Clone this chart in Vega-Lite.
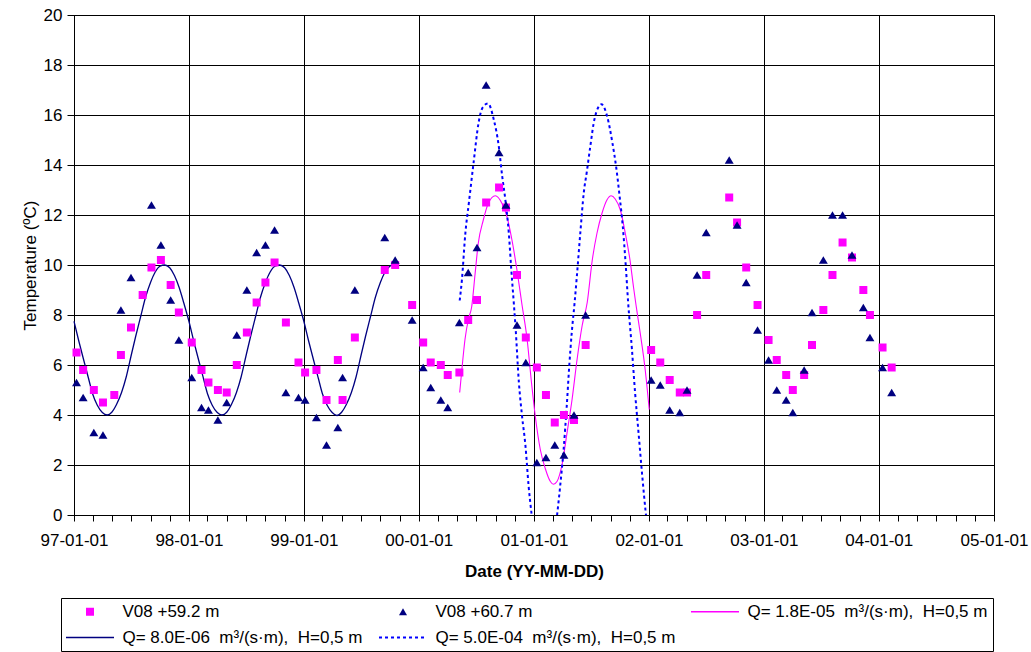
{
  "$schema": "https://vega.github.io/schema/vega-lite/v6.json",
  "width": 920,
  "height": 500,
  "autosize": "none",
  "padding": {"left": 74, "top": 15, "right": 37, "bottom": 137},
  "background": "white",
  "config": {
    "font": "Liberation Sans",
    "view": {"stroke": "black", "strokeWidth": 1},
    "axis": {
      "labelFont": "Liberation Sans",
      "titleFont": "Liberation Sans",
      "labelFontSize": 17,
      "titleFontSize": 17,
      "labelColor": "black",
      "titleColor": "black",
      "domainColor": "black",
      "tickColor": "black",
      "gridColor": "black",
      "gridWidth": 1
    }
  },
  "datasets": {
    "sq": [
      {"date": "1997-01-09", "value": 6.5}, {"date": "1997-01-30", "value": 5.8}, {"date": "1997-03-05", "value": 5.0}, {"date": "1997-04-03", "value": 4.5},
      {"date": "1997-05-09", "value": 4.8}, {"date": "1997-05-30", "value": 6.4}, {"date": "1997-07-01", "value": 7.5}, {"date": "1997-08-07", "value": 8.8},
      {"date": "1997-09-04", "value": 9.9}, {"date": "1997-10-04", "value": 10.2}, {"date": "1997-11-04", "value": 9.2}, {"date": "1997-11-30", "value": 8.1},
      {"date": "1998-01-10", "value": 6.9}, {"date": "1998-02-10", "value": 5.8}, {"date": "1998-03-04", "value": 5.3}, {"date": "1998-04-03", "value": 5.0},
      {"date": "1998-05-01", "value": 4.9}, {"date": "1998-06-02", "value": 6.0}, {"date": "1998-07-04", "value": 7.3}, {"date": "1998-08-04", "value": 8.5},
      {"date": "1998-09-01", "value": 9.3}, {"date": "1998-09-30", "value": 10.1}, {"date": "1998-11-05", "value": 7.7}, {"date": "1998-12-15", "value": 6.1},
      {"date": "1999-01-05", "value": 5.7}, {"date": "1999-02-10", "value": 5.8}, {"date": "1999-03-14", "value": 4.6}, {"date": "1999-04-19", "value": 6.2},
      {"date": "1999-05-04", "value": 4.6}, {"date": "1999-06-12", "value": 7.1}, {"date": "1999-09-15", "value": 9.8}, {"date": "1999-10-18", "value": 10.0},
      {"date": "1999-12-11", "value": 8.4}, {"date": "2000-01-15", "value": 6.9}, {"date": "2000-02-08", "value": 6.1}, {"date": "2000-03-11", "value": 6.0},
      {"date": "2000-04-02", "value": 5.6}, {"date": "2000-05-09", "value": 5.7}, {"date": "2000-06-06", "value": 7.8}, {"date": "2000-07-04", "value": 8.6},
      {"date": "2000-08-02", "value": 12.5}, {"date": "2000-09-12", "value": 13.1}, {"date": "2000-10-04", "value": 12.3}, {"date": "2000-11-08", "value": 9.6},
      {"date": "2000-12-06", "value": 7.1}, {"date": "2001-01-10", "value": 5.9}, {"date": "2001-02-08", "value": 4.8}, {"date": "2001-03-08", "value": 3.7},
      {"date": "2001-04-06", "value": 4.0}, {"date": "2001-05-08", "value": 3.8}, {"date": "2001-06-14", "value": 6.8},
      {"date": "2002-01-08", "value": 6.6}, {"date": "2002-02-06", "value": 6.1}, {"date": "2002-03-08", "value": 5.4}, {"date": "2002-04-09", "value": 4.9},
      {"date": "2002-05-02", "value": 4.9}, {"date": "2002-06-03", "value": 8.0}, {"date": "2002-07-02", "value": 9.6}, {"date": "2002-09-13", "value": 12.7},
      {"date": "2002-10-08", "value": 11.7}, {"date": "2002-11-06", "value": 9.9}, {"date": "2002-12-12", "value": 8.4}, {"date": "2003-01-16", "value": 7.0},
      {"date": "2003-02-11", "value": 6.2}, {"date": "2003-03-13", "value": 5.6}, {"date": "2003-04-03", "value": 5.0}, {"date": "2003-05-09", "value": 5.6},
      {"date": "2003-06-03", "value": 6.8}, {"date": "2003-07-09", "value": 8.2}, {"date": "2003-08-07", "value": 9.6}, {"date": "2003-09-08", "value": 10.9},
      {"date": "2003-10-08", "value": 10.3}, {"date": "2003-11-13", "value": 9.0}, {"date": "2003-12-04", "value": 8.0}, {"date": "2004-01-13", "value": 6.7},
      {"date": "2004-02-11", "value": 5.9}
    ],
    "tri": [
      {"date": "1997-01-09", "value": 5.3}, {"date": "1997-01-30", "value": 4.7}, {"date": "1997-03-05", "value": 3.3}, {"date": "1997-04-03", "value": 3.2},
      {"date": "1997-05-30", "value": 8.2}, {"date": "1997-07-01", "value": 9.5}, {"date": "1997-09-04", "value": 12.4}, {"date": "1997-10-04", "value": 10.8},
      {"date": "1997-11-04", "value": 8.6}, {"date": "1997-11-30", "value": 7.0}, {"date": "1998-01-10", "value": 5.5}, {"date": "1998-02-10", "value": 4.3},
      {"date": "1998-03-04", "value": 4.2}, {"date": "1998-04-03", "value": 3.8}, {"date": "1998-05-01", "value": 4.5}, {"date": "1998-06-02", "value": 7.2},
      {"date": "1998-07-04", "value": 9.0}, {"date": "1998-08-04", "value": 10.5}, {"date": "1998-09-01", "value": 10.8}, {"date": "1998-09-30", "value": 11.4},
      {"date": "1998-11-05", "value": 4.9}, {"date": "1998-12-15", "value": 4.7}, {"date": "1999-01-05", "value": 4.6}, {"date": "1999-02-10", "value": 3.9},
      {"date": "1999-03-14", "value": 2.8}, {"date": "1999-04-19", "value": 3.5}, {"date": "1999-05-04", "value": 5.5}, {"date": "1999-06-12", "value": 9.0},
      {"date": "1999-09-15", "value": 11.1}, {"date": "1999-10-18", "value": 10.2}, {"date": "1999-12-11", "value": 7.8}, {"date": "2000-01-15", "value": 5.9},
      {"date": "2000-02-08", "value": 5.1}, {"date": "2000-03-11", "value": 4.6}, {"date": "2000-04-02", "value": 4.3}, {"date": "2000-05-09", "value": 7.7},
      {"date": "2000-06-06", "value": 9.7}, {"date": "2000-07-04", "value": 10.7}, {"date": "2000-08-02", "value": 17.2}, {"date": "2000-09-12", "value": 14.5},
      {"date": "2000-10-04", "value": 12.4}, {"date": "2000-11-08", "value": 7.6}, {"date": "2000-12-06", "value": 6.1}, {"date": "2001-01-10", "value": 2.1},
      {"date": "2001-02-08", "value": 2.3}, {"date": "2001-03-08", "value": 2.8}, {"date": "2001-04-06", "value": 2.4}, {"date": "2001-05-08", "value": 4.0},
      {"date": "2001-06-14", "value": 8.0}, {"date": "2002-01-08", "value": 5.4}, {"date": "2002-02-06", "value": 5.2}, {"date": "2002-03-08", "value": 4.2},
      {"date": "2002-04-09", "value": 4.1}, {"date": "2002-05-02", "value": 5.0}, {"date": "2002-06-03", "value": 9.6}, {"date": "2002-07-02", "value": 11.3},
      {"date": "2002-09-13", "value": 14.2}, {"date": "2002-10-08", "value": 11.6}, {"date": "2002-11-06", "value": 9.3}, {"date": "2002-12-12", "value": 7.4},
      {"date": "2003-01-16", "value": 6.2}, {"date": "2003-02-11", "value": 5.0}, {"date": "2003-03-13", "value": 4.6}, {"date": "2003-04-03", "value": 4.1},
      {"date": "2003-05-09", "value": 5.8}, {"date": "2003-06-03", "value": 8.1}, {"date": "2003-07-09", "value": 10.2}, {"date": "2003-08-07", "value": 12.0},
      {"date": "2003-09-08", "value": 12.0}, {"date": "2003-10-08", "value": 10.4}, {"date": "2003-11-13", "value": 8.3}, {"date": "2003-12-04", "value": 7.1},
      {"date": "2004-01-13", "value": 5.9}, {"date": "2004-02-11", "value": 4.9}
    ],
    "q08": [
      {"date": "1997-01-01", "value": 7.75}, {"date": "1997-01-16", "value": 6.97}, {"date": "1997-02-01", "value": 6.19}, {"date": "1997-02-16", "value": 5.47},
      {"date": "1997-03-01", "value": 4.85}, {"date": "1997-03-16", "value": 4.39}, {"date": "1997-04-01", "value": 4.1}, {"date": "1997-04-16", "value": 4.0},
      {"date": "1997-05-01", "value": 4.11}, {"date": "1997-05-16", "value": 4.42}, {"date": "1997-06-01", "value": 4.9}, {"date": "1997-06-16", "value": 5.53},
      {"date": "1997-07-01", "value": 6.35}, {"date": "1997-07-16", "value": 7.15}, {"date": "1997-08-01", "value": 7.95}, {"date": "1997-08-16", "value": 8.7},
      {"date": "1997-09-01", "value": 9.3}, {"date": "1997-09-16", "value": 9.72}, {"date": "1997-10-01", "value": 9.95}, {"date": "1997-10-16", "value": 10.0},
      {"date": "1997-11-01", "value": 9.89}, {"date": "1997-11-16", "value": 9.58}, {"date": "1997-12-01", "value": 9.1}, {"date": "1997-12-16", "value": 8.47},
      {"date": "1998-01-01", "value": 7.75}, {"date": "1998-01-16", "value": 6.97}, {"date": "1998-02-01", "value": 6.19}, {"date": "1998-02-16", "value": 5.47},
      {"date": "1998-03-01", "value": 4.85}, {"date": "1998-03-16", "value": 4.39}, {"date": "1998-04-01", "value": 4.1}, {"date": "1998-04-16", "value": 4.0},
      {"date": "1998-05-01", "value": 4.11}, {"date": "1998-05-16", "value": 4.42}, {"date": "1998-06-01", "value": 4.9}, {"date": "1998-06-16", "value": 5.53},
      {"date": "1998-07-01", "value": 6.35}, {"date": "1998-07-16", "value": 7.15}, {"date": "1998-08-01", "value": 7.95}, {"date": "1998-08-16", "value": 8.7},
      {"date": "1998-09-01", "value": 9.3}, {"date": "1998-09-16", "value": 9.72}, {"date": "1998-10-01", "value": 9.95}, {"date": "1998-10-16", "value": 10.0},
      {"date": "1998-11-01", "value": 9.89}, {"date": "1998-11-16", "value": 9.58}, {"date": "1998-12-01", "value": 9.1}, {"date": "1998-12-16", "value": 8.47},
      {"date": "1999-01-01", "value": 7.75}, {"date": "1999-01-16", "value": 6.97}, {"date": "1999-02-01", "value": 6.19}, {"date": "1999-02-16", "value": 5.47},
      {"date": "1999-03-01", "value": 4.85}, {"date": "1999-03-16", "value": 4.39}, {"date": "1999-04-01", "value": 4.1}, {"date": "1999-04-16", "value": 3.98},
      {"date": "1999-05-01", "value": 4.11}, {"date": "1999-05-16", "value": 4.42}, {"date": "1999-06-01", "value": 4.9}, {"date": "1999-06-16", "value": 5.53},
      {"date": "1999-07-01", "value": 6.35}, {"date": "1999-07-16", "value": 7.15}, {"date": "1999-08-01", "value": 7.95}, {"date": "1999-08-16", "value": 8.7},
      {"date": "1999-09-01", "value": 9.3}, {"date": "1999-09-16", "value": 9.72}, {"date": "1999-10-01", "value": 9.95}, {"date": "1999-10-18", "value": 10.05}
    ],
    "q18": [
      {"date": "2000-05-10", "value": 4.9}, {"date": "2000-05-16", "value": 5.7}, {"date": "2000-05-27", "value": 7.04}, {"date": "2000-06-07", "value": 7.85},
      {"date": "2000-06-17", "value": 8.32}, {"date": "2000-06-28", "value": 9.66}, {"date": "2000-07-08", "value": 10.87}, {"date": "2000-07-24", "value": 11.8},
      {"date": "2000-08-09", "value": 12.47}, {"date": "2000-08-31", "value": 12.77}, {"date": "2000-09-21", "value": 12.47}, {"date": "2000-10-07", "value": 11.94},
      {"date": "2000-10-23", "value": 11.0}, {"date": "2000-11-08", "value": 9.79}, {"date": "2000-11-24", "value": 8.4}, {"date": "2000-12-10", "value": 7.04},
      {"date": "2000-12-24", "value": 5.3}, {"date": "2001-01-05", "value": 3.96}, {"date": "2001-01-21", "value": 2.62}, {"date": "2001-02-06", "value": 1.85},
      {"date": "2001-02-22", "value": 1.34}, {"date": "2001-03-04", "value": 1.23}, {"date": "2001-03-15", "value": 1.34}, {"date": "2001-04-01", "value": 2.08},
      {"date": "2001-04-16", "value": 3.29}, {"date": "2001-05-02", "value": 4.63}, {"date": "2001-05-18", "value": 6.24}, {"date": "2001-06-03", "value": 7.58},
      {"date": "2001-06-19", "value": 8.5}, {"date": "2001-07-05", "value": 10.19}, {"date": "2001-07-20", "value": 11.27}, {"date": "2001-08-05", "value": 12.07},
      {"date": "2001-08-21", "value": 12.61}, {"date": "2001-09-03", "value": 12.77}, {"date": "2001-09-16", "value": 12.64}, {"date": "2001-10-02", "value": 12.21},
      {"date": "2001-10-18", "value": 11.27}, {"date": "2001-11-02", "value": 10.19}, {"date": "2001-11-13", "value": 9.12}, {"date": "2001-11-21", "value": 8.4},
      {"date": "2001-12-04", "value": 7.31}, {"date": "2001-12-20", "value": 5.83}, {"date": "2002-01-02", "value": 4.22}
    ],
    "q50": [
      {"date": "2000-05-10", "value": 8.58}, {"date": "2000-05-17", "value": 9.4}, {"date": "2000-05-28", "value": 11.27}, {"date": "2000-06-08", "value": 12.47},
      {"date": "2000-06-23", "value": 14.08}, {"date": "2000-07-09", "value": 15.69}, {"date": "2000-07-22", "value": 16.3}, {"date": "2000-08-08", "value": 16.46},
      {"date": "2000-08-26", "value": 15.83}, {"date": "2000-09-11", "value": 14.76}, {"date": "2000-09-22", "value": 13.55}, {"date": "2000-10-02", "value": 12.61},
      {"date": "2000-10-13", "value": 11.27}, {"date": "2000-10-21", "value": 9.79}, {"date": "2000-10-29", "value": 8.45}, {"date": "2000-11-03", "value": 7.58},
      {"date": "2000-11-14", "value": 5.3}, {"date": "2000-11-24", "value": 3.96}, {"date": "2000-12-05", "value": 2.75}, {"date": "2000-12-15", "value": 1.14},
      {"date": "2000-12-24", "value": 0.07}, {"date": "2001-01-15", "value": -2.0}, {"date": "2001-02-04", "value": -2.6}, {"date": "2001-02-28", "value": -1.5},
      {"date": "2001-03-16", "value": 0.07}, {"date": "2001-03-25", "value": 1.14}, {"date": "2001-04-05", "value": 2.62}, {"date": "2001-04-15", "value": 4.36},
      {"date": "2001-04-23", "value": 5.97}, {"date": "2001-05-01", "value": 7.31}, {"date": "2001-05-10", "value": 8.5}, {"date": "2001-05-17", "value": 9.53},
      {"date": "2001-05-28", "value": 11.27}, {"date": "2001-06-08", "value": 12.88}, {"date": "2001-06-18", "value": 13.75}, {"date": "2001-06-29", "value": 14.76},
      {"date": "2001-07-12", "value": 15.83}, {"date": "2001-08-03", "value": 16.43}, {"date": "2001-08-21", "value": 15.96}, {"date": "2001-09-07", "value": 14.89},
      {"date": "2001-09-20", "value": 13.82}, {"date": "2001-09-30", "value": 12.74}, {"date": "2001-10-10", "value": 11.54}, {"date": "2001-10-19", "value": 10.06},
      {"date": "2001-10-27", "value": 8.5}, {"date": "2001-11-08", "value": 6.64}, {"date": "2001-11-18", "value": 4.9}, {"date": "2001-11-29", "value": 3.29},
      {"date": "2001-12-10", "value": 1.68}, {"date": "2001-12-21", "value": 0.2}, {"date": "2002-01-01", "value": -1.0}
    ]
  },
  "encoding": {
    "x": {
      "field": "date",
      "type": "temporal",
      "scale": {
        "type": "utc",
        "domain": [{"year": 1997, "month": 1, "date": 1, "utc": true}, {"year": 2005, "month": 1, "date": 1, "utc": true}],
        "nice": false
      },
      "axis": {
        "title": "Date (YY-MM-DD)",
        "titleFontWeight": "bold",
        "titlePadding": 15,
        "tickCount": {"interval": "month", "step": 2},
        "labelExpr": "utcmonth(datum.value) == 0 ? utcFormat(datum.value, '%y-%m-%d') : ''",
        "labelOverlap": false,
        "labelFlush": false,
        "labelBound": false,
        "labelAngle": 0,
        "tickSize": 6,
        "labelPadding": 11,
        "grid": true,
        "gridOpacity": {"condition": {"test": "utcmonth(datum.value) == 0", "value": 1}, "value": 0}
      }
    },
    "y": {
      "field": "value",
      "type": "quantitative",
      "scale": {"domain": [0, 20], "nice": false},
      "axis": {
        "title": "Temperature (ºC)",
        "titleFontWeight": "normal",
        "titlePadding": 4,
        "values": [0, 2, 4, 6, 8, 10, 12, 14, 16, 18, 20],
        "tickSize": 7,
        "labelPadding": 5,
        "grid": true
      }
    }
  },
  "layer": [
    {
      "data": {"name": "q08"},
      "mark": {"type": "line", "strokeWidth": 1.3, "interpolate": "monotone"},
      "encoding": {
        "color": {
          "datum": "Q= 8.0E-06\u00a0 m³/(s·m),\u00a0 H=0,5 m",
          "type": "nominal",
          "scale": {
            "domain": ["V08 +59.2 m", "V08 +60.7 m", "Q= 1.8E-05\u00a0 m³/(s·m),\u00a0 H=0,5 m", "Q= 8.0E-06\u00a0 m³/(s·m),\u00a0 H=0,5 m", "Q= 5.0E-04\u00a0 m³/(s·m),\u00a0 H=0,5 m"],
            "range": ["#ff00ff", "#000080", "#ff00ff", "#000080", "#0000ff"]
          },
          "legend": {
            "title": null,
            "orient": "none",
            "legendX": -13,
            "legendY": 583,
            "columns": 3,
            "direction": "horizontal",
            "strokeColor": "black",
            "padding": 5,
            "labelFont": "Liberation Sans",
            "labelFontSize": 17,
            "labelColor": "black",
            "labelLimit": 400,
            "symbolSize": 64,
            "symbolOffset": 15.5,
            "labelOffset": 24,
            "columnPadding": 12,
            "rowPadding": 8,
            "encode": {
              "symbols": {
                "update": {
                  "shape": {"signal": "datum.index == 0 ? 'square' : datum.index == 1 ? 'triangle-up' : 'M-6,0H6'"},
                  "fill": {"signal": "datum.index == 0 ? '#ff00ff' : datum.index == 1 ? '#000080' : 'transparent'"},
                  "stroke": {"signal": "datum.index == 2 ? '#ff00ff' : datum.index == 3 ? '#000080' : datum.index == 4 ? '#0000ff' : 'transparent'"},
                  "strokeWidth": {"signal": "datum.index == 4 ? 2 : datum.index >= 2 ? 1.3 : 0"},
                  "strokeDash": {"signal": "datum.index == 4 ? [3, 3] : [1, 0]"},
                  "size": {"value": 64},
                  "opacity": {"value": 1}
                }
              }
            }
          }
        }
      }
    },
    {
      "data": {"name": "q18"},
      "mark": {"type": "line", "strokeWidth": 1.1, "interpolate": "monotone"},
      "encoding": {"color": {"datum": "Q= 1.8E-05\u00a0 m³/(s·m),\u00a0 H=0,5 m", "type": "nominal"}}
    },
    {
      "data": {"name": "q50"},
      "mark": {"type": "line", "strokeWidth": 2, "strokeDash": [3, 3], "interpolate": "monotone", "clip": true},
      "encoding": {"color": {"datum": "Q= 5.0E-04\u00a0 m³/(s·m),\u00a0 H=0,5 m", "type": "nominal"}}
    },
    {
      "data": {"name": "sq"},
      "mark": {"type": "point", "shape": "square", "filled": true, "size": 64, "opacity": 1},
      "encoding": {"color": {"datum": "V08 +59.2 m", "type": "nominal"}}
    },
    {
      "data": {"name": "tri"},
      "mark": {"type": "point", "shape": "triangle-up", "filled": true, "size": 80, "opacity": 1},
      "encoding": {"color": {"datum": "V08 +60.7 m", "type": "nominal"}}
    }
  ]
}
